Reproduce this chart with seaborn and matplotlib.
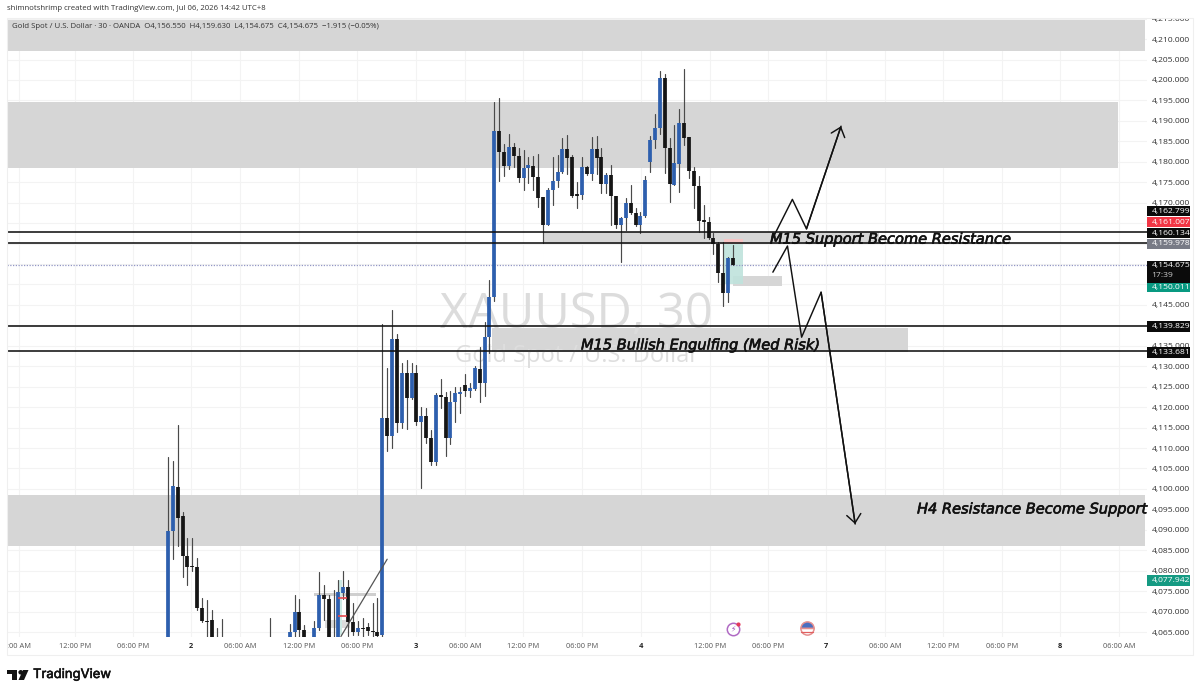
import numpy as np
import pandas as pd
import matplotlib
matplotlib.use('Agg')
import matplotlib.pyplot as plt
import matplotlib.patheffects as pe
from matplotlib.patches import Polygon, Rectangle
import seaborn as sns

nan = np.nan

# ── candles (30 min bars, 0 = first visible bar) ──
opens = [4060, 4089.6, 4100.4, 4093.4, 4083.7, 4081.2, 4081, 4070.8, 4067.8, 4068,
         4062, 4062, nan, nan, nan, nan, nan, nan, nan, nan,
         nan, 4062, nan, nan, nan, 4062, 4065.1, 4069.8, 4065.5, nan,
         4062, 4065.9, 4074, 4073, 4062, 4062, 4074.6, 4075.9, 4067.5, 4065.1,
         4065.9, 4066.2, 4065.3, 4065, 4064.3, 4117.4, 4113, 4136.7, 4116, 4128.4,
         4122.3, 4128.4, 4116.3, 4117.9, 4112.4, 4106.5, 4123, 4122.5, 4112.5, 4121.2,
         4123.3, 4125.4, 4124, 4124.5, 4129.4, 4125.8, 4137.2, 4147, 4187.6, 4182.3,
         4179, 4183.5, 4181.4, 4176, 4178.4, 4179, 4176.2, 4171.3, 4164.5, 4173.1,
         4175.4, 4177.4, 4183.1, 4181.1, 4172, 4171.9, 4178.6, 4177, 4183.1, 4181.1,
         4174.6, 4176.8, 4171.6, 4164.5, 4166.2, 4169.9, 4167.4, 4164.6, 4166.8, 4180,
         4185.3, 4188.2, 4200.4, 4183.3, 4174.3, 4179.4, 4189.6, 4186.1, 4177.7, 4174.1,
         4165.8, 4165.2, 4161.3, 4159.9, 4152.7, 4148, 4156.55]
highs = [4107.9, 4106.7, 4115.6, 4094.4, 4088.1, 4088.1, 4083.2, 4073.2, 4072.8, 4070.5,
         4065.9, 4068.1, nan, nan, nan, nan, nan, nan, nan, nan,
         nan, 4068.5, nan, nan, nan, 4067, 4074, 4073, 4066.7, nan,
         4067.6, 4079.6, 4076.5, 4074, 4075.3, 4077.7, 4079.8, 4077.7, 4072, 4067.6,
         4068.5, 4067.1, 4072.2, 4073.4, 4140.3, 4129.5, 4143.8, 4138, 4130.7, 4131.4,
         4130.9, 4130.3, 4120, 4119.7, 4114.4, 4123.5, 4126.9, 4123.8, 4124, 4124.8,
         4124.8, 4128.1, 4125.8, 4130.1, 4134.8, 4140.9, 4151, 4194.7, 4195.5, 4184.4,
         4186.8, 4184.5, 4183.3, 4182.9, 4181.1, 4181.3, 4181.9, 4171.3, 4173.5, 4181.2,
         4181.7, 4185.7, 4186.6, 4181.7, 4175, 4181.2, 4179, 4186.1, 4186.4, 4183.3,
         4177.2, 4179.2, 4171.6, 4166.6, 4171.1, 4174.3, 4168.8, 4167.8, 4176.4, 4186.3,
         4191.7, 4202.2, 4201.5, 4185.7, 4189, 4192.8, 4202.7, 4186.1, 4178.6, 4176.4,
         4169.4, 4166.6, 4162.7, 4160.5, 4160.5, 4156.8, 4159.63]
lows = [4058, 4082.8, 4086, 4078.4, 4076.5, 4080, 4070.5, 4067.5, 4063.9, 4062,
        4060, 4060, nan, nan, nan, nan, nan, nan, nan, nan,
        nan, 4060, nan, nan, nan, 4060, 4063, 4063, 4062, nan,
        4061, 4065.5, 4068, 4062, 4061, 4061.5, 4073, 4064, 4064.3, 4064.3,
        4063.9, 4064.3, 4063.9, 4063.9, 4063.9, 4109.3, 4109.9, 4114, 4114.8, 4114.6,
        4122, 4115.6, 4100.3, 4111.3, 4105.9, 4105.9, 4119.7, 4108.1, 4111, 4116.3,
        4118.5, 4122.6, 4122.4, 4124.2, 4121.3, 4122.6, 4133.2, 4146, 4175.4, 4176.6,
        4178.2, 4178.8, 4175, 4173.1, 4174.7, 4173.1, 4169, 4160.1, 4164.5, 4169.4,
        4173.9, 4177.2, 4177, 4171.5, 4168.6, 4170.8, 4176.8, 4175.5, 4177, 4172.3,
        4172.3, 4164.5, 4163.7, 4155.4, 4163.3, 4167.2, 4164.4, 4162.7, 4166.6, 4177.4,
        4183.3, 4186.8, 4177.2, 4170.2, 4174.3, 4172.7, 4184, 4176, 4168.6, 4162.9,
        4161.3, 4161, 4157.5, 4150.5, 4144.7, 4145.8, 4154.675]
closes = [4089.6, 4100.6, 4093, 4083.7, 4080.8, 4080.8, 4070.8, 4067.7, 4067.5, 4063.5,
          4061, 4061, nan, nan, nan, nan, nan, nan, nan, nan,
          nan, 4061, nan, nan, nan, 4065.1, 4069.8, 4065.5, 4063.5, nan,
          4065.9, 4074, 4073, 4063, 4061.5, 4074.7, 4075.9, 4067.5, 4065, 4065.9,
          4065.8, 4065.3, 4065, 4064.1, 4117.4, 4113, 4136.7, 4116, 4128.4, 4122.3,
          4128.4, 4116.3, 4117.9, 4112.4, 4106.5, 4123, 4122.5, 4112.5, 4121.2, 4123.4,
          4123.6, 4124, 4124.7, 4129.6, 4125.8, 4137.2, 4147, 4187.6, 4182.3, 4179,
          4183.5, 4181.3, 4176, 4178.4, 4179.1, 4176.2, 4171.1, 4164.5, 4173.1, 4175.4,
          4177.4, 4183.1, 4180.9, 4171.6, 4171.7, 4178.6, 4177, 4183.1, 4180.8, 4174.6,
          4176.8, 4171.6, 4164.5, 4166.2, 4170, 4167.4, 4164.6, 4166.8, 4175.6, 4185.3,
          4188.2, 4200.4, 4183.3, 4174.5, 4179.6, 4189.4, 4185.9, 4177.7, 4174.1, 4165.6,
          4165.2, 4161.3, 4159.9, 4152.7, 4148, 4156.4, 4154.675]

# ── axis labels ──
time_ticks = [-30.5, -19.1, -7.2, 4.7, 14.8, 26.9, 38.8, 50.9, 61, 72.9, 85, 97.1,
              111.3, 123.2, 135.1, 147.2, 159.1, 171.3, 183.2, 195.3]
time_labels = [':00 AM', '12:00 PM', '06:00 PM', '2', '06:00 AM', '12:00 PM', '06:00 PM',
               '3', '06:00 AM', '12:00 PM', '06:00 PM', '4', '12:00 PM', '06:00 PM',
               '7', '06:00 AM', '12:00 PM', '06:00 PM', '8', '06:00 AM']
day_labels = ['2', '3', '4', '7', '8']
price_ticks = list(range(4065, 4220, 5))

# ── drawings ──
zone_starts = [-34, -34, -34, 77.2, 66.5, 116]
zone_ends = [200.7, 195.1, 200.7, 146, 152, 126]
zone_lows = [4207.1, 4178.5, 4086, 4159.9, 4133.5, 4149.7]
zone_highs = [4214.7, 4194.6, 4098.5, 4162.8, 4139.3, 4152]
level_prices = [4162.799, 4160.134, 4139.829, 4133.681]
last_price = 4154.675
up_path_bars = [124, 128.2, 131.1, 138.2]
up_path_prices = [4160.9, 4170.8, 4163.6, 4188.7]
down_path_bars = [124.2, 127.2, 130.1, 134.1, 141.1]
down_path_prices = [4153, 4159.4, 4137.1, 4148.1, 4091.4]

W, H = 1200, 695
BLUE = '#2d5fae'
BLACK = '#151515'
ZONE = '#d6d6d6'
TICK_SIZE = 6.1


def fx(x, y):
    return x / W, 1 - y / H


sns.set_theme(style='white')
plt.rcParams['font.family'] = ['Open Sans', 'DejaVu Sans']

fig = plt.figure(figsize=(W / 100, H / 100), dpi=100, facecolor='white')
ax = fig.add_axes([7 / W, (H - 637) / H, 1140 / W, 619 / H])

df = pd.DataFrame({'bar': np.arange(len(opens)), 'open': opens, 'high': highs,
                   'low': lows, 'close': closes}).dropna()
df['side'] = np.where(df['close'] >= df['open'], 'up', 'down')

wicks = df.melt(id_vars=['bar'], value_vars=['low', 'high'], value_name='price')
bodies = df.melt(id_vars=['bar', 'side'], value_vars=['open', 'close'], value_name='price')

sns.lineplot(data=wicks, x='bar', y='price', units='bar', estimator=None, color='#4a4a4a',
             linewidth=0.85, legend=False, ax=ax, zorder=3)
sns.lineplot(data=bodies, x='bar', y='price', units='bar', hue='side', estimator=None,
             palette={'up': BLUE, 'down': BLACK}, linewidth=2.7, legend=False, ax=ax,
             zorder=4, solid_capstyle='butt')

for x0, x1, y0, y1 in zip(zone_starts, zone_ends, zone_lows, zone_highs):
    ax.fill_between([x0, x1], y0, y1, color=ZONE, linewidth=0, zorder=1)

# position tool near the last bar
ax.fill_between([114.2, 118.1], 4150, 4160, color='#bfe3dc', linewidth=0, zorder=1.5, alpha=0.9)
ax.fill_between([114.2, 118.1], 4160, 4161, color='#f7c5c5', linewidth=0, zorder=1.5)

# small leftover drawing down in the 2 Jul cluster
ax.fill_between([30, 42.7], 4073.8, 4074.6, color='#cfcfcf', linewidth=0, zorder=1.5)
ax.fill_between([32.2, 37.4], 4066, 4068, color='#dcdcdc', linewidth=0, zorder=1.5)
ax.fill_between([34.9, 35.7], 4064.3, 4077.7, color='#cdeae5', linewidth=0, zorder=1.5)
for p in [4073.3, 4068.9]:
    ax.plot([35, 36.7], [p, p], color='#e5484d', lw=1.2, zorder=5, solid_capstyle='butt')
ax.plot([35.5, 45], [4063.9, 4082.8], color='#555555', lw=0.9, zorder=5)

for p in level_prices:
    ax.axhline(p, color='#111111', lw=1.15, zorder=5)
ax.axhline(last_price, color='#9296c4', lw=0.9, ls=(0, (1, 1.2)), zorder=2)

# arrows
for xs, ys in [(up_path_bars, up_path_prices), (down_path_bars, down_path_prices)]:
    path = pd.DataFrame({'bar': xs, 'price': ys})
    sns.lineplot(data=path, x='bar', y='price', estimator=None, sort=False, color='#111111',
                 linewidth=1.05, ax=ax, zorder=6)
    ax.annotate('', xy=(xs[-1], ys[-1]), xytext=(xs[-2], ys[-2]), zorder=6,
                arrowprops=dict(arrowstyle='->,head_length=0.36,head_width=0.3', color='#111111',
                                lw=1.05, mutation_scale=17, shrinkA=0, shrinkB=0))

# watermark
ax.text(55.9, 4139.4, 'XAUUSD, 30', fontsize=35, color='#dcdcdc', va='baseline', ha='left', zorder=1.2)
ax.text(58.9, 4131, 'Gold Spot / U.S. Dollar', fontsize=17, color='#dedede', va='baseline',
        ha='left', zorder=1.2)

# notes on the chart
notes = [(123.6, 4161.1, 'M15 Support Become Resistance'),
         (84.8, 4135.2, 'M15 Bullish Engulfing (Med Risk)'),
         (153.8, 4095.1, 'H4 Resistance Become Support')]
for nx, ny, note in notes:
    ax.text(nx, ny, note, fontsize=10.5, family='DejaVu Sans', style='italic', color='#111111',
            va='center', ha='left', zorder=7,
            path_effects=[pe.withStroke(linewidth=0.45, foreground='#111111')])

# event icons under the last bars
ax.scatter([116.1], [4065.7], s=80, facecolor='white', edgecolor='#b06ac4', linewidth=1.1, zorder=6,
           clip_on=False)
ax.scatter([117.1], [4067.0], s=9, color='#e5395b', linewidth=0, zorder=7, clip_on=False)
ax.text(116.1, 4065.7, '⚡', family='DejaVu Sans', fontsize=5.5, color='#9c4fb8', ha='center',
        va='center', zorder=7)
ax.plot([131.2], [4066], marker='o', ms=9.5, mfc='#4a6fc0', mfcalt='white', fillstyle='top',
        mec='#e58f8f', mew=1.1, zorder=6, clip_on=False)
ax.plot([129.9, 132.5], [4065.1, 4065.1], color='#e06060', lw=0.9, zorder=7)

# axes
ax.set_xlim(-33.06, 201.02)
ax.set_ylim(4063.78, 4215.16)
ax.set_xticks(time_ticks)
ax.set_xticklabels(time_labels)
ax.set_yticks(price_ticks)
ax.set_yticklabels([f'{v:,.3f}' for v in price_ticks])
ax.yaxis.tick_right()
ax.set_xlabel('')
ax.set_ylabel('')
ax.tick_params(axis='x', length=0, pad=4, labelsize=5.4, labelcolor='#555555')
ax.tick_params(axis='y', length=0, pad=3.6, labelsize=TICK_SIZE, labelcolor='#333333')
for t in ax.get_xticklabels():
    if t.get_text() in day_labels:
        t.set_fontweight('bold')
        t.set_color('#222222')
ax.set_axisbelow(True)
ax.grid(True, color='#f3f3f3', linewidth=0.8)
sns.despine(ax=ax, left=True, bottom=True, right=True, top=True)

top_label = ax.get_yticklabels()[-1]
top_label.set_clip_on(True)
top_label.set_clip_box(matplotlib.transforms.Bbox([[1140, 0], [1200, H - 18]]))

# outer frame of the snapshot
x0, y0 = fx(7, 655)
x1, y1 = fx(1193, 18)
fig.add_artist(Rectangle((x0, y0), x1 - x0, y1 - y0, transform=fig.transFigure, fill=False,
                         edgecolor='#efefef', linewidth=0.8, zorder=0.5))

# price tags on the scale
tags = [(206, 216, '4,162.799', '#0b0b0b'), (217, 227, '4,161.007', '#f23645'),
        (228, 238, '4,160.134', '#0b0b0b'), (239, 249, '4,159.978', '#787b86'),
        (283, 292, '4,150.011', '#089981'), (321, 332, '4,139.829', '#0b0b0b'),
        (347, 358, '4,133.681', '#0b0b0b'), (575, 586, '4,077.942', '#159a82')]
for top, bot, txt, col in tags:
    rx, ry = fx(1147, bot)
    fig.add_artist(Rectangle((rx, ry), 43 / W, (bot - top) / H, transform=fig.transFigure,
                             facecolor=col, edgecolor='none', zorder=5))
    tx, ty = fx(1151.5, (top + bot) / 2)
    fig.text(tx, ty, txt, color='white', fontsize=TICK_SIZE, va='center', ha='left', zorder=6)

rx, ry = fx(1147, 283)
fig.add_artist(Rectangle((rx, ry), 43 / W, 22 / H, transform=fig.transFigure, facecolor='#0b0b0b',
                         edgecolor='none', zorder=5))
fig.text(*fx(1151.5, 266), '4,154.675', color='white', fontsize=TICK_SIZE, va='center', zorder=6)
fig.text(*fx(1151.5, 275.5), '17:39', color='#cccccc', fontsize=TICK_SIZE, va='center', zorder=6)

# header lines
fig.text(*fx(7, 9), 'shimnotshrimp created with TradingView.com, Jul 06, 2026 14:42 UTC+8',
         fontsize=5.55, color='#333333', va='center')
fig.text(*fx(12, 27), 'Gold Spot / U.S. Dollar · 30 · OANDA  O4,156.550  H4,159.630  '
         'L4,154.675  C4,154.675  −1.915 (−0.05%)', fontsize=5.6, color='#333333', va='center')

# TradingView logo
logo_parts = [[(7, 670), (17, 670), (17, 680), (12, 680), (12, 674), (7, 674)],
              [(23, 670), (28.5, 670), (24, 680), (18.5, 680)]]
for pts in logo_parts:
    fig.add_artist(Polygon([fx(*p) for p in pts], closed=True, transform=fig.transFigure,
                           facecolor='#111111', edgecolor='none'))
cx, cy = fx(20, 672)
fig.text(cx, cy, '●', fontsize=4.5, family='DejaVu Sans', color='#111111', ha='center', va='center')
fig.text(*fx(33, 675), 'TradingView', fontsize=9.4, family='Inter', color='#111111', va='center',
         path_effects=[pe.withStroke(linewidth=0.4, foreground='#111111')])

fig.savefig('out.png', dpi=100)
